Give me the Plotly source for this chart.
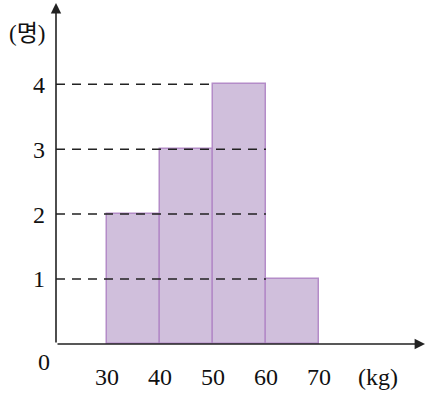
import plotly.graph_objects as go

# data
bin_left = [30, 40, 50, 60]
bin_width = 10
counts = [2, 3, 4, 1]
y_ticks = [1, 2, 3, 4]
x_ticks = [30, 40, 50, 60, 70]
dash_end = [60, 60, 60, 50]

x_min, x_max = 20.4, 90
y_max = 5.25

FONT = "Liberation Serif, Noto Sans CJK KR"
fig = go.Figure()
fig.add_trace(go.Bar(
    x=[b + bin_width / 2 for b in bin_left], y=counts, width=bin_width,
    marker=dict(color="rgb(208,191,220)", line=dict(color="rgb(180,140,200)", width=1.5)),
    hoverinfo="skip",
))

shapes = []
for lv, xe in zip(y_ticks, dash_end):
    shapes.append(dict(type="line", xref="x", yref="y", x0=x_min, x1=xe, y0=lv, y1=lv,
                       line=dict(color="#222", width=1.5, dash="9px,7px"), layer="above"))

annotations = [
    dict(x=x_max, y=0, ax=x_min, ay=0, xref="x", yref="y", axref="x", ayref="y",
         showarrow=True, arrowhead=2, arrowsize=1.3, arrowwidth=1.6, arrowcolor="#222", text=""),
    dict(x=x_min, y=y_max, ax=x_min, ay=0, xref="x", yref="y", axref="x", ayref="y",
         showarrow=True, arrowhead=2, arrowsize=1.3, arrowwidth=1.6, arrowcolor="#222", text=""),
    dict(x=-0.0325, y=-0.053, xref="paper", yref="paper", text="0", showarrow=False,
         xanchor="center", yanchor="middle", font=dict(family=FONT, size=24, color="#111")),
    dict(x=0.8726, y=-0.097, xref="paper", yref="paper", text="(kg)", showarrow=False,
         xanchor="center", yanchor="middle", font=dict(family=FONT, size=24, color="#111")),
    dict(x=-0.078, y=0.912, xref="paper", yref="paper", text="(명)", showarrow=False,
         xanchor="center", yanchor="middle", font=dict(family=FONT, size=23, color="#111")),
]

fig.update_layout(
    width=427, height=393,
    margin=dict(l=56, r=2, t=3, b=49),
    plot_bgcolor="white", paper_bgcolor="white",
    showlegend=False, bargap=0,
    shapes=shapes, annotations=annotations,
    xaxis=dict(range=[x_min, x_max], showgrid=False, zeroline=False, showline=False,
               automargin=False,
               tickvals=x_ticks, ticktext=[str(v) for v in x_ticks], ticks="",
               ticklabelstandoff=16, tickfont=dict(family=FONT, size=24, color="#111")),
    yaxis=dict(range=[0, y_max], showgrid=False, zeroline=False, showline=False,
               automargin=False,
               tickvals=y_ticks, ticktext=[str(v) for v in y_ticks], ticks="",
               ticklabelstandoff=10, tickfont=dict(family=FONT, size=24, color="#111")),
)
fig.write_html("out.html", config={"displayModeBar": False},
               post_script="document.body.style.margin='0';document.body.style.overflow='hidden';")
